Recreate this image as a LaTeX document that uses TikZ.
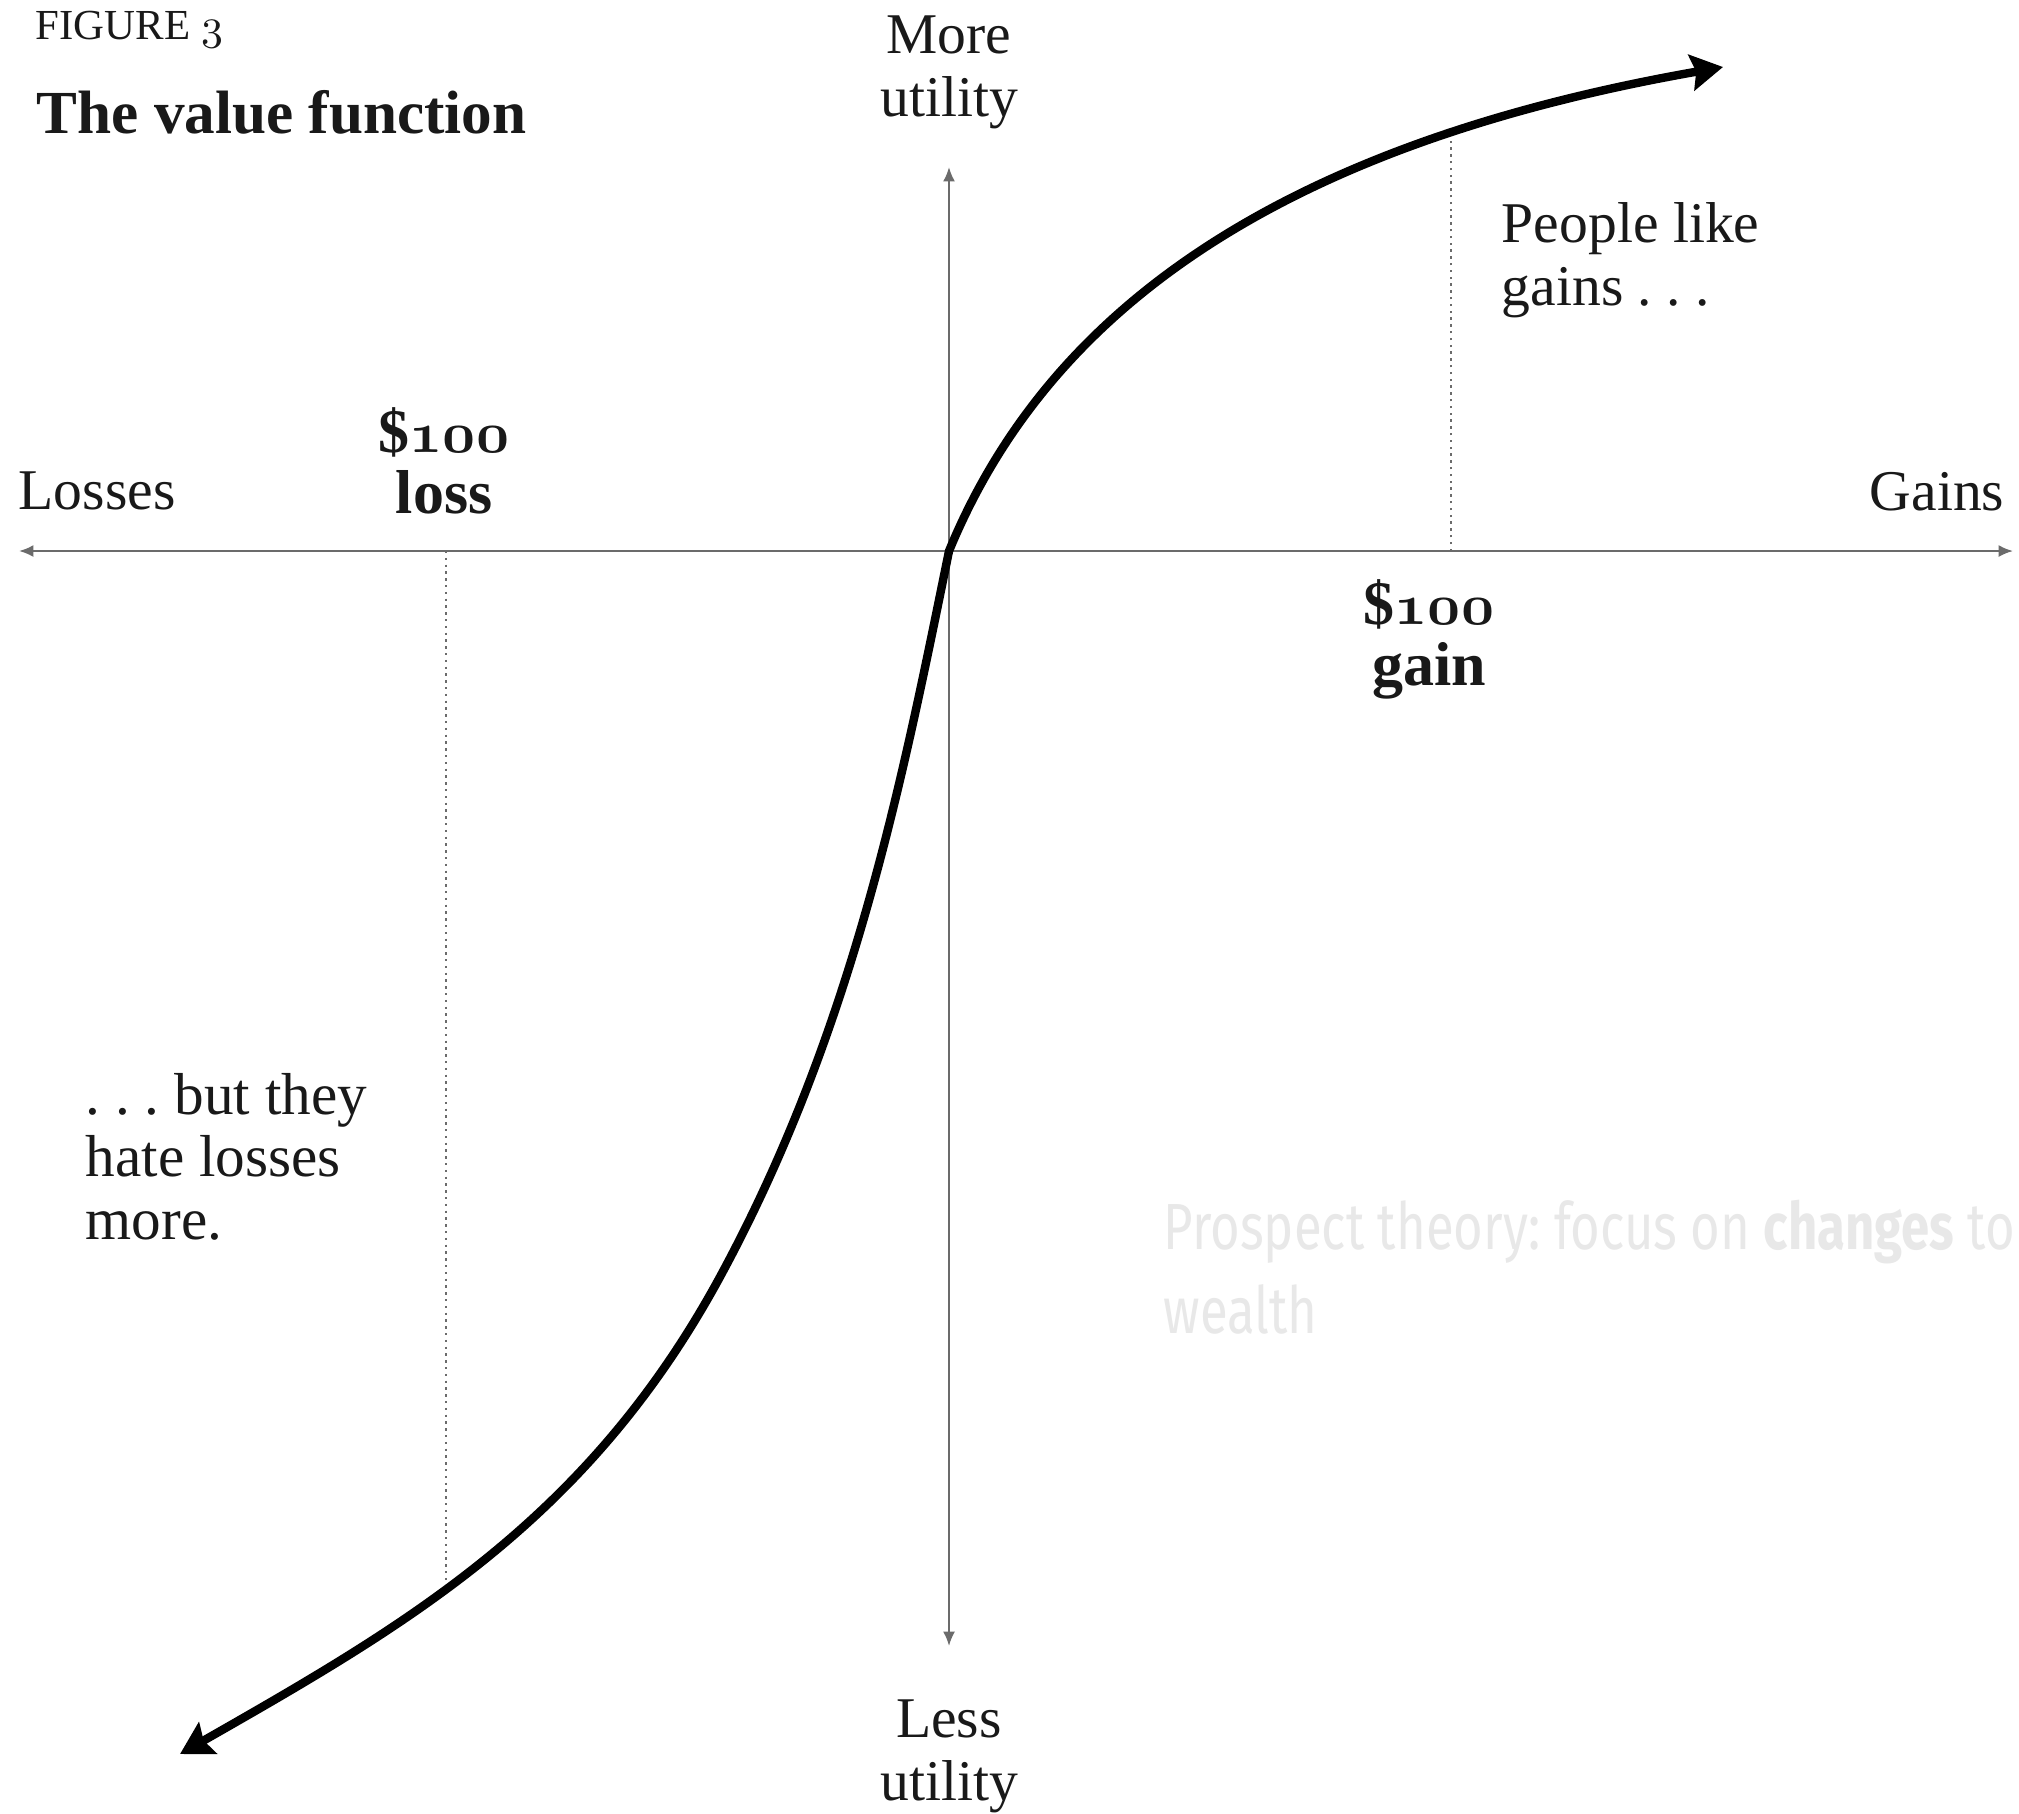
\documentclass[tikz,border=0pt]{standalone}
\usepackage{fontspec}
\setmainfont{Liberation Serif}
\newfontfamily\condsans[FakeStretch=0.78]{Fira Sans}
\usetikzlibrary{arrows.meta}
\newcommand{\osnm}[1]{{\usefont{OML}{cmm}{m}{it}#1}}
\newcommand{\osnb}[1]{{\usefont{OML}{cmm}{b}{it}#1}}
\definecolor{ink}{gray}{0.1}
\definecolor{axisgray}{gray}{0.42}
\definecolor{faint}{gray}{0.91}
\tikzset{
  lbl/.style={font=\fontsize{14.4}{15.6}\selectfont, text=ink, inner sep=0pt, align=left},
  blbl/.style={font=\fontsize{15.5}{15.2}\selectfont\bfseries, text=ink, inner sep=0pt, align=center},
  axisline/.style={draw=axisgray, line width=0.55pt, {Latex[length=3.6pt,width=3pt]}-{Latex[length=3.6pt,width=3pt]}},
  guide/.style={draw=axisgray, line width=0.5pt, dash pattern=on 0.6pt off 1.1pt},
  vcurve/.style={draw=black, line width=2.1pt, {Stealth[length=8pt,width=9pt,inset=1.2pt]}-{Stealth[length=8pt,width=9pt,inset=1.2pt]}}
}
\begin{document}
\begin{tikzpicture}[x=0.25pt, y=-0.25pt]
\useasboundingbox[fill=white] (0,0) rectangle (2019,1813);
\frenchspacing
% axes
\coordinate (L) at (19,551);
\coordinate (R) at (2013,551);
\coordinate (T) at (949,167);
\coordinate (B) at (949,1646);
\coordinate (O) at (949,551);
\draw[axisline] (L) -- (R);
\draw[axisline] (T) -- (B);
% guide lines
\coordinate (gainAxis) at (1451,551);
\coordinate (gainCurve) at (1451,137);
\coordinate (lossAxis) at (446,551);
\coordinate (lossCurve) at (446,1588);
\draw[guide] (gainAxis) -- (gainCurve);
\draw[guide] (lossAxis) -- (lossCurve);
% value function
\coordinate (lowTip) at (180,1754);
\coordinate (M) at (721,1275);
\coordinate (upTip) at (1723,67);
\draw[vcurve] (lowTip) .. controls (406,1625) and (588,1521) .. (M)
  .. controls (854,1029) and (903,776) .. (O)
  .. controls (1040,330) and (1250,150) .. (upTip);
% titles
\node[font=\fontsize{10.7}{12}\selectfont, text=ink, inner sep=0pt, anchor=base west] (fig) at (35,39) {FIGURE \osnm{3}};
\node[font=\fontsize{15.3}{17}\selectfont\bfseries, text=ink, inner sep=0pt, anchor=base west] (title) at (36,133) {The value function};
% axis labels (base anchor = baseline of last line)
\node[lbl, align=center, anchor=base] (more) at (949,116) {More\\utility};
\node[lbl, align=center, anchor=base] (less) at (949,1800) {Less\\utility};
\node[lbl, anchor=base west] (losses) at (18,509) {Losses};
\node[lbl, anchor=base east] (gains) at (2005,510) {Gains};
\node[blbl, anchor=base] (loss100) at (444,513) {\$\osnb{100}\\loss};
\node[blbl, anchor=base] (gain100) at (1429,685) {\$\osnb{100}\\gain};
% annotations
\node[lbl, anchor=base west] (like) at (1501,305) {People like\\gains . . .};
\node[lbl, font=\fontsize{14.8}{15.6}\selectfont, anchor=base west] (hate) at (85,1239) {. . . but they\\hate losses\\more.};
\node[font=\condsans\fontsize{16.3}{21}\selectfont, text=faint, inner sep=0pt, align=left, anchor=base west] (prospect) at (1163,1333) {Prospect theory: focus on \textbf{changes} to\\wealth};
\end{tikzpicture}
\end{document}
